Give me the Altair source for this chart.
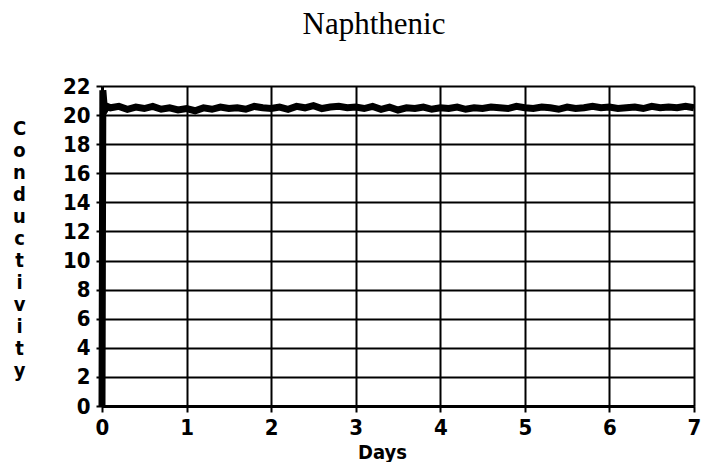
import altair as alt
import pandas as pd

chart_title = "Naphthenic"
x_title = "Days"
y_title_letters = ["C", "o", "n", "d", "u", "c", "t", "i", "v", "i", "t", "y"]

x_ticks = [0, 1, 2, 3, 4, 5, 6, 7]
y_ticks = [0, 2, 4, 6, 8, 10, 12, 14, 16, 18, 20, 22]

days = [0.0, 0.01, 0.03, 0.06,
        0.1, 0.2, 0.3, 0.4, 0.5, 0.6, 0.7, 0.8, 0.9, 1.0,
        1.1, 1.2, 1.3, 1.4, 1.5, 1.6, 1.7, 1.8, 1.9, 2.0,
        2.1, 2.2, 2.3, 2.4, 2.5, 2.6, 2.7, 2.8, 2.9, 3.0,
        3.1, 3.2, 3.3, 3.4, 3.5, 3.6, 3.7, 3.8, 3.9, 4.0,
        4.1, 4.2, 4.3, 4.4, 4.5, 4.6, 4.7, 4.8, 4.9, 5.0,
        5.1, 5.2, 5.3, 5.4, 5.5, 5.6, 5.7, 5.8, 5.9, 6.0,
        6.1, 6.2, 6.3, 6.4, 6.5, 6.6, 6.7, 6.8, 6.9, 7.0]
conductivity = [0.0, 21.7, 20.3, 20.6,
                20.5, 20.6, 20.4, 20.55, 20.45, 20.6, 20.4, 20.5, 20.35, 20.45,
                20.3, 20.5, 20.4, 20.55, 20.45, 20.5, 20.4, 20.6, 20.5, 20.45,
                20.55, 20.4, 20.6, 20.5, 20.65, 20.45, 20.55, 20.6, 20.5, 20.55,
                20.45, 20.6, 20.4, 20.55, 20.35, 20.5, 20.45, 20.55, 20.4, 20.5,
                20.45, 20.55, 20.4, 20.5, 20.45, 20.55, 20.5, 20.45, 20.6, 20.5,
                20.45, 20.55, 20.5, 20.4, 20.55, 20.45, 20.5, 20.6, 20.5, 20.55,
                20.45, 20.5, 20.55, 20.45, 20.6, 20.5, 20.55, 20.5, 20.6, 20.5]

df = pd.DataFrame({"Days": days, "Conductivity": conductivity})
title_df = pd.DataFrame({"t": [chart_title]})

LABEL_FONT = "'DejaVu Sans Condensed', 'Liberation Sans Narrow', 'DejaVu Sans', sans-serif"

line = alt.Chart(df).mark_line(color="black", strokeWidth=7, strokeJoin="miter").encode(
    x=alt.X("Days:Q",
            scale=alt.Scale(domain=[0, 7], nice=False),
            axis=alt.Axis(values=x_ticks, title=x_title, grid=True, gridColor="black",
                          gridWidth=2, gridOpacity=1, domainColor="black", domainWidth=3,
                          tickColor="black", tickWidth=2, tickSize=6,
                          labelFont=LABEL_FONT, labelFontWeight="bold", labelFontSize=22,
                          labelColor="black", labelPadding=5, labelFlush=False,
                          titleFont=LABEL_FONT, titleFontWeight="bold", titleFontSize=20,
                          titleColor="black", titleX=280, titleY=46,
                          titleBaseline="middle", titleAlign="center")),
    y=alt.Y("Conductivity:Q",
            scale=alt.Scale(domain=[0, 22], nice=False),
            axis=alt.Axis(values=y_ticks, title=y_title_letters, grid=True, gridColor="black",
                          gridWidth=2, gridOpacity=1, domainColor="black", domainWidth=3,
                          tickColor="black", tickWidth=2, tickSize=6,
                          labelFont=LABEL_FONT, labelFontWeight="bold", labelFontSize=22,
                          labelColor="black", labelPadding=6,
                          titleFont=LABEL_FONT, titleFontWeight="bold", titleFontSize=20,
                          titleColor="black", titleAngle=0, titleAlign="center",
                          titleBaseline="middle", titleLineHeight=22,
                          titleX=-83, titleY=42)),
)

title = alt.Chart(title_df).mark_text(
    font="'Liberation Serif', serif", fontSize=31, color="black", baseline="alphabetic", align="center"
).encode(text="t:N", x=alt.value(272), y=alt.value(-52))

chart = alt.layer(line, title).properties(
    width=592, height=320,
    autosize=alt.AutoSizeParams(type="none"),
    padding={"left": 94, "top": 78, "right": 8, "bottom": 56},
).configure_view(stroke="black", strokeWidth=3).configure(background="white")

chart.save("out.html", embed_options={"renderer": "svg", "actions": False})
